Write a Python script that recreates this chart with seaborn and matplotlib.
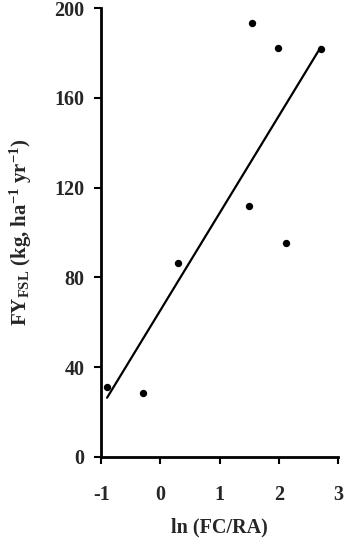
import matplotlib
matplotlib.use("Agg")
import matplotlib.pyplot as plt
import seaborn as sns
import pandas as pd

x_vals = [-0.90, -0.30, 0.29, 1.50, 1.55, 1.98, 2.12, 2.71]
y_vals = [31.0, 28.6, 86.3, 111.9, 193.5, 182.3, 95.5, 181.6]
x_ticks = [-1, 0, 1, 2, 3]
y_ticks = [0, 40, 80, 120, 160, 200]

sns.set_theme(style="ticks")
plt.rcParams['font.family'] = ['Liberation Serif', 'DejaVu Serif']
plt.rcParams['mathtext.fontset'] = 'custom'
plt.rcParams['mathtext.rm'] = 'Liberation Serif:bold'
plt.rcParams['mathtext.it'] = 'Liberation Serif:bold'
plt.rcParams['mathtext.bf'] = 'Liberation Serif:bold'

df = pd.DataFrame({"x": x_vals, "y": y_vals})

fig = plt.figure(figsize=(3.5, 5.44), dpi=100)
ax = fig.add_axes([0.289, 0.160, 0.677, 0.825])

sns.regplot(data=df, x="x", y="y", ax=ax, ci=None, truncate=True,
            scatter_kws=dict(s=28, color="black", edgecolor="black", linewidths=0, alpha=1),
            line_kws=dict(color="black", lw=1.6))

ax.set_xlim(-1, 3)
ax.set_ylim(0, 200)
ax.set_xticks(x_ticks)
ax.set_yticks(y_ticks)
ax.set_xticklabels([str(t) for t in x_ticks], fontsize=14.5, fontweight="bold")
ax.set_yticklabels([str(t) for t in y_ticks], fontsize=14.5, fontweight="bold")
for s in ["top", "right"]:
    ax.spines[s].set_visible(False)
for s in ["left", "bottom"]:
    ax.spines[s].set_linewidth(2)
    ax.spines[s].set_color("black")
ax.tick_params(axis="both", direction="out", length=5, width=1.5, color="black")
ax.tick_params(axis="x", pad=15)
ax.tick_params(axis="y", pad=7)

ax.set_xlabel("ln (FC/RA)", fontsize=14.5, fontweight="bold", labelpad=9)
ax.set_ylabel(r"FY$_{\mathrm{FSL}}$ (kg, ha$^{-1}$ yr$^{-1}$)", fontsize=15,
              fontweight="bold", labelpad=15)

fig.savefig("out.png", dpi=100)
